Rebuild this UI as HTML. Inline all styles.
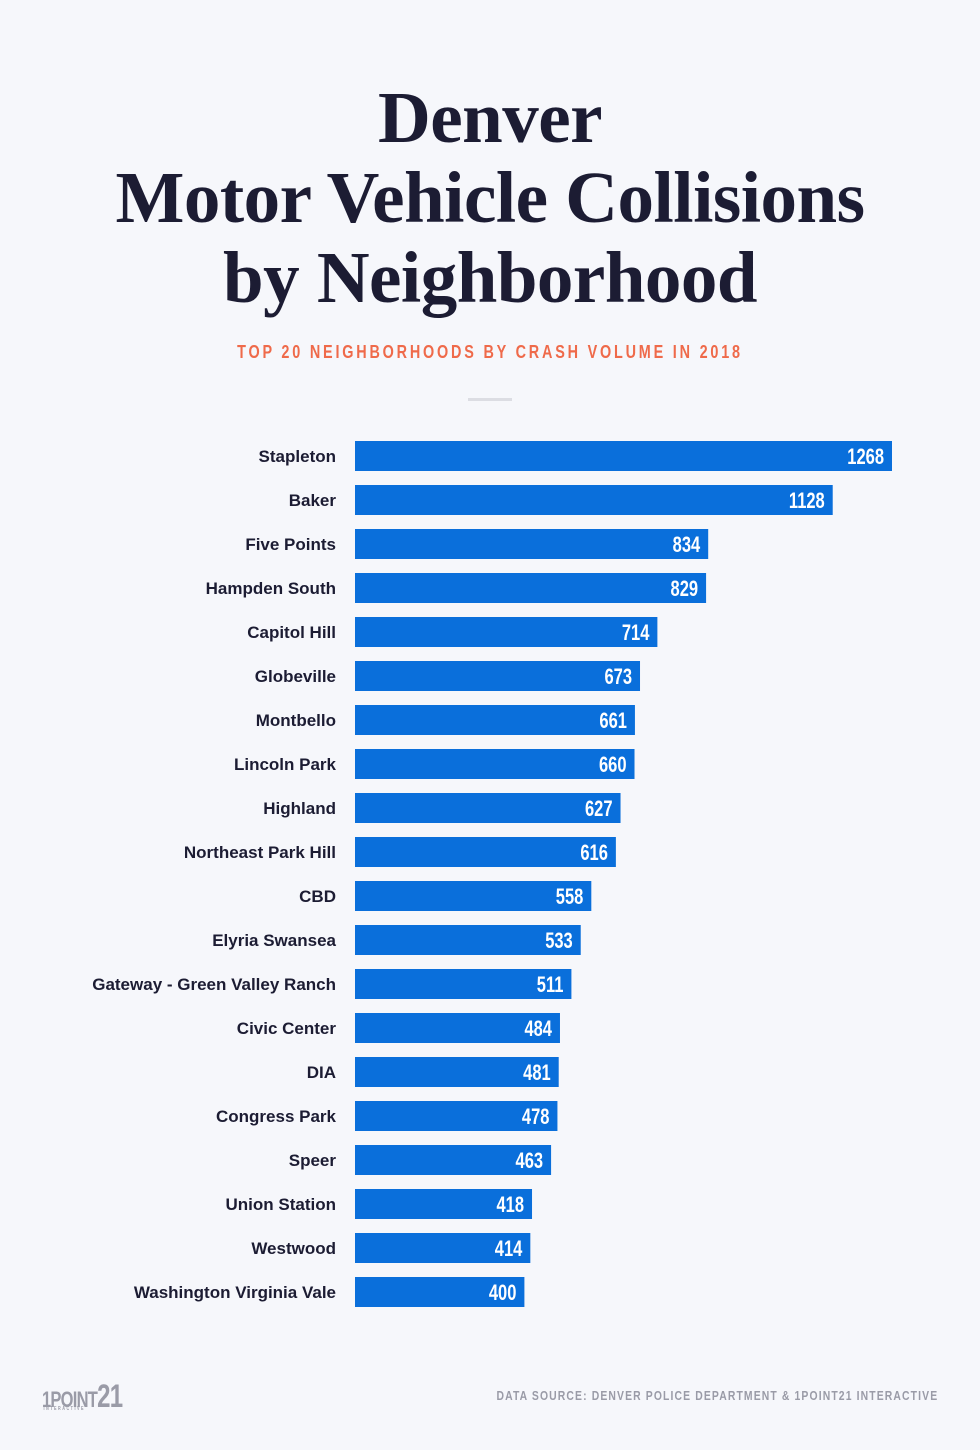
<!DOCTYPE html>
<html><head><meta charset="utf-8"><style>
html,body{margin:0;padding:0;background:#f6f7fb;}
body{width:980px;height:1450px;position:relative;overflow:hidden;font-family:"Liberation Sans",sans-serif;}
.title{position:absolute;left:0;width:980px;text-align:center;font-family:"Liberation Serif",serif;font-weight:bold;color:#1c1c33;font-size:73px;letter-spacing:-0.5px;line-height:80px;top:78px;}
.sub{position:absolute;top:342px;left:0;width:980px;text-align:center;color:#ef6a4a;font-weight:bold;font-size:18px;letter-spacing:3.5px;transform:scaleX(0.8);}
.rule{position:absolute;top:398px;left:468px;width:44px;height:3px;background:#dcdde3;}
svg{position:absolute;left:0;top:0;}
.foot{position:absolute;top:1388px;right:42px;color:#9a9ba7;font-weight:bold;font-size:13px;letter-spacing:1.4px;transform:scaleX(0.8);transform-origin:right center;white-space:nowrap;}
.logo{position:absolute;left:42px;top:1378px;color:#9a9ba7;font-weight:bold;font-size:22px;letter-spacing:-1px;transform:scaleX(0.75);transform-origin:left center;white-space:nowrap;}
.logo small{position:absolute;left:2px;top:28px;font-size:5px;letter-spacing:2px;}
</style></head><body>
<div class="title">Denver<br>Motor Vehicle Collisions<br>by Neighborhood</div>
<div class="sub">TOP 20 NEIGHBORHOODS BY CRASH VOLUME IN 2018</div>
<div class="rule"></div>
<svg id="chart" width="980" height="1450"></svg>
<div class="logo">1POINT<span style="font-size:32px">21</span><small>INTERACTIVE</small></div>
<div class="foot">DATA SOURCE: DENVER POLICE DEPARTMENT &amp; 1POINT21 INTERACTIVE</div>
<script>
const categories=["Stapleton","Baker","Five Points","Hampden South","Capitol Hill","Globeville","Montbello","Lincoln Park","Highland","Northeast Park Hill","CBD","Elyria Swansea","Gateway - Green Valley Ranch","Civic Center","DIA","Congress Park","Speer","Union Station","Westwood","Washington Virginia Vale"];
const values=[1268,1128,834,829,714,673,661,660,627,616,558,533,511,484,481,478,463,418,414,400];
const NS="http://www.w3.org/2000/svg";
const svg=document.getElementById('chart');
const x0=355, kx=(892-355)/1268;
const xScale=v=>x0+v*kx;
const yScale=i=>456+i*44;
categories.forEach((c,i)=>{
  const y=yScale(i);
  const r=document.createElementNS(NS,'rect');
  r.setAttribute('x',x0);r.setAttribute('y',y-15);
  r.setAttribute('width',xScale(values[i])-x0);r.setAttribute('height',30);
  r.setAttribute('fill','#0a6fdb');
  
  
  svg.appendChild(r);
  const t=document.createElementNS(NS,'text');
  t.setAttribute('x',336);t.setAttribute('y',y+6);
  t.setAttribute('text-anchor','end');t.setAttribute('font-size','17');
  t.setAttribute('font-weight','bold');t.setAttribute('fill','#1c1c33');
  t.setAttribute('font-family','"Liberation Sans",sans-serif');
  t.textContent=c;
  
  
  svg.appendChild(t);
  const v=document.createElementNS(NS,'text');
  v.setAttribute('x',0);v.setAttribute('y',0);
  v.setAttribute('transform','translate('+(xScale(values[i])-8)+','+(y+8)+') scale(0.75,1)');
  v.setAttribute('text-anchor','end');v.setAttribute('font-size','22');
  v.setAttribute('font-weight','bold');v.setAttribute('fill','#ffffff');
  v.setAttribute('font-family','"Liberation Sans",sans-serif');
  v.textContent=values[i];
  
  
  svg.appendChild(v);
});
</script>
</body></html>
